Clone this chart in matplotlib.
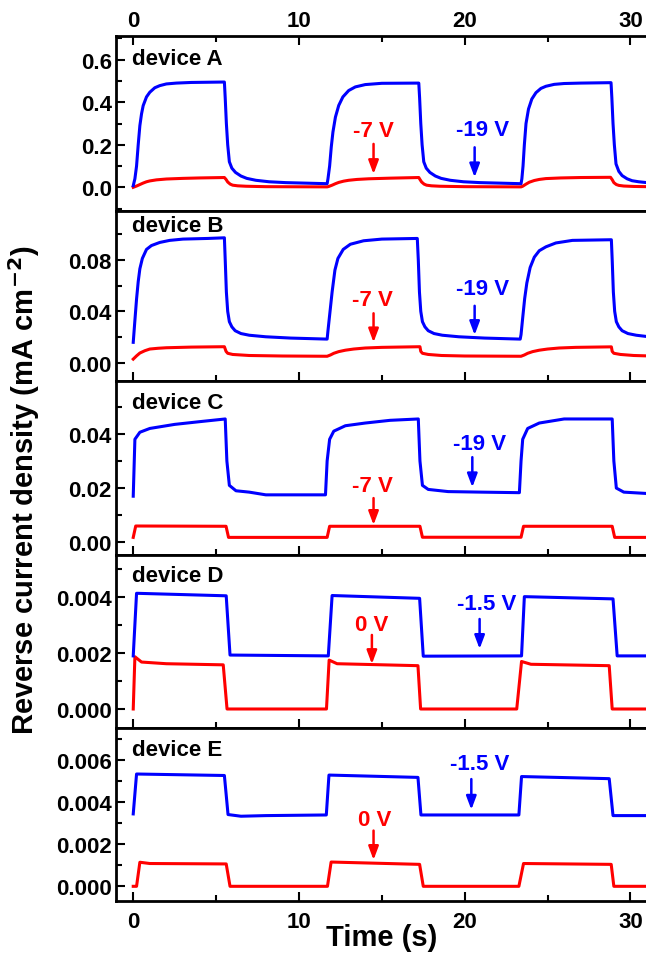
import matplotlib
matplotlib.use("Agg")
import matplotlib.pyplot as plt
from matplotlib.ticker import MultipleLocator

plt.rcParams['font.family'] = ['Liberation Sans', 'DejaVu Sans']
plt.rcParams['font.weight'] = 'bold'
plt.rcParams['mathtext.default'] = 'bf'

AZUL = '#0000ff'
ROJO = '#ff0000'

# ---- datos (tiempo en s, densidad en mA cm-2) ----
# device A
a_azul_t = [0, 0.1, 0.2, 0.3, 0.4, 0.5, 0.6, 0.8, 1.0, 1.3, 1.6, 2.0, 2.6, 3.5, 5.5,
            5.55, 5.62, 5.7, 5.8, 5.95, 6.17, 6.5, 6.85, 7.4, 8.2, 9.2, 10.2, 11.7,
            11.75, 11.85, 11.95, 12.05, 12.2, 12.4, 12.65, 13.0, 13.4, 14.0, 15.0, 17.23,
            17.28, 17.35, 17.43, 17.53, 17.68, 17.9, 18.23, 18.58, 19.13, 19.93, 20.93, 21.93, 23.4,
            23.45, 23.52, 23.6, 23.7, 23.85, 24.05, 24.3, 24.6, 24.9, 25.4, 26.0, 27.0, 28.83,
            28.88, 28.95, 29.03, 29.13, 29.3, 29.5, 29.8, 30.1, 30.5, 31.0]
a_azul_y = [0.0075, 0.04, 0.10, 0.20, 0.29, 0.345, 0.384, 0.425, 0.447, 0.468, 0.478, 0.486, 0.49, 0.493, 0.495,
            0.42, 0.30, 0.20, 0.12, 0.09, 0.07, 0.053, 0.042, 0.033, 0.026, 0.022, 0.02, 0.017,
            0.04, 0.10, 0.19, 0.26, 0.33, 0.385, 0.425, 0.455, 0.472, 0.483, 0.489, 0.49,
            0.42, 0.30, 0.20, 0.12, 0.09, 0.07, 0.053, 0.042, 0.033, 0.026, 0.022, 0.02, 0.017,
            0.04, 0.10, 0.20, 0.30, 0.368, 0.415, 0.445, 0.465, 0.475, 0.484, 0.488, 0.49, 0.492,
            0.42, 0.30, 0.20, 0.11, 0.075, 0.055, 0.04, 0.031, 0.026, 0.022]
a_rojo_t = [0, 0.2, 0.4, 0.6, 0.8, 1.0, 1.4, 2.0, 3.0, 4.0, 5.5,
            5.6, 5.7, 5.85, 6.0, 6.3, 6.8, 8.0, 11.7,
            11.8, 12.0, 12.2, 12.4, 12.7, 13.0, 13.5, 14.2, 15.5, 17.23,
            17.3, 17.4, 17.55, 17.7, 18.0, 18.5, 20.0, 23.4,
            23.5, 23.7, 23.9, 24.2, 24.5, 24.9, 25.8, 27.0, 28.8,
            28.9, 29.0, 29.15, 29.3, 29.6, 30.2, 31.0]
a_rojo_y = [0.0, 0.006, 0.013, 0.02, 0.026, 0.03, 0.035, 0.039, 0.042, 0.044, 0.046,
            0.037, 0.025, 0.015, 0.01, 0.007, 0.005, 0.003, 0.002,
            0.004, 0.01, 0.017, 0.023, 0.029, 0.033, 0.037, 0.04, 0.043, 0.046,
            0.037, 0.025, 0.015, 0.01, 0.007, 0.005, 0.003, 0.002,
            0.005, 0.015, 0.024, 0.032, 0.037, 0.041, 0.044, 0.046, 0.047,
            0.036, 0.022, 0.013, 0.009, 0.006, 0.004, 0.003]

# device B
b_azul_t = [0, 0.1, 0.2, 0.3, 0.4, 0.55, 0.8, 1.1, 1.6, 2.2, 3.0, 4.5, 5.5,
            5.55, 5.62, 5.7, 5.8, 5.95, 6.15, 6.5, 7.0, 8.0, 9.5, 11.7,
            11.75, 11.85, 12.0, 12.17, 12.35, 12.67, 13.1, 13.9, 15.0, 17.14,
            17.2, 17.27, 17.35, 17.45, 17.6, 17.8, 18.15, 18.65, 19.65, 21.2, 23.35,
            23.4, 23.5, 23.62, 23.75, 23.95, 24.2, 24.5, 24.9, 25.5, 26.5, 28.85,
            28.9, 28.97, 29.05, 29.15, 29.3, 29.5, 29.85, 30.35, 31.0]
b_azul_y = [0.016, 0.033, 0.0495, 0.063, 0.073, 0.081, 0.088, 0.091, 0.0934, 0.095, 0.096, 0.0965, 0.097,
            0.08, 0.055, 0.04, 0.032, 0.028, 0.025, 0.0228, 0.0215, 0.0203, 0.0193, 0.0185,
            0.025, 0.037, 0.055, 0.072, 0.081, 0.088, 0.092, 0.0947, 0.096, 0.0965,
            0.08, 0.055, 0.04, 0.032, 0.028, 0.025, 0.0228, 0.0215, 0.0203, 0.0193, 0.0185,
            0.022, 0.035, 0.05, 0.062, 0.074, 0.082, 0.087, 0.09, 0.093, 0.095, 0.0955,
            0.08, 0.055, 0.04, 0.032, 0.028, 0.025, 0.0228, 0.0215, 0.0205]
b_rojo_t = [0, 0.2, 0.4, 0.7, 1.0, 1.5, 2.0, 3.5, 5.5,
            5.6, 5.7, 6.0, 7.0, 9.0, 11.7,
            11.9, 12.1, 12.4, 12.8, 13.3, 14.0, 15.0, 17.3,
            17.35, 17.45, 17.8, 18.6, 20.0, 23.4,
            23.6, 23.8, 24.1, 24.5, 25.0, 25.7, 26.7, 28.85,
            28.9, 29.0, 29.4, 30.2, 31.0]
b_rojo_y = [0.003, 0.0055, 0.0077, 0.0095, 0.0108, 0.0114, 0.0118, 0.0123, 0.0126,
            0.009, 0.0075, 0.0066, 0.0058, 0.0054, 0.0052,
            0.0062, 0.0075, 0.0088, 0.0099, 0.0108, 0.0116, 0.0121, 0.0126,
            0.009, 0.0075, 0.0066, 0.0058, 0.0054, 0.0052,
            0.0062, 0.0075, 0.0088, 0.0099, 0.0108, 0.0116, 0.0121, 0.0125,
            0.009, 0.0075, 0.0066, 0.0058, 0.0055]

# device C
c_azul_t = [0, 0.1, 0.4, 1.0, 2.5, 4.0, 5.55, 5.65, 5.8, 6.2, 7.0, 8.0, 10.0, 11.6,
            11.7, 11.85, 12.1, 12.8, 14.0, 15.5, 17.2, 17.3, 17.45, 17.8, 19.0, 21.0, 23.3,
            23.4, 23.5, 23.8, 24.5, 26.0, 28.9, 29.0, 29.15, 29.6, 31.0]
c_azul_y = [0.017, 0.038, 0.0406, 0.042, 0.0435, 0.0445, 0.0455, 0.03, 0.021, 0.019, 0.0185, 0.0175, 0.0175, 0.0175,
            0.03, 0.038, 0.041, 0.043, 0.044, 0.045, 0.0455, 0.03, 0.021, 0.0195, 0.0187, 0.0185, 0.0183,
            0.03, 0.038, 0.042, 0.044, 0.0455, 0.0455, 0.03, 0.02, 0.0185, 0.018]
c_rojo_t = [0, 0.15, 5.6, 5.75, 11.7, 11.85, 17.3, 17.45, 23.4, 23.55, 28.9, 29.05, 31.0]
c_rojo_y = [0.0018, 0.006, 0.0059, 0.0018, 0.0018, 0.0059, 0.0059, 0.00185, 0.00185, 0.0059, 0.0059, 0.0018, 0.0018]

# device D
d_azul_t = [0, 0.2, 5.61, 5.84, 11.77, 12.0, 17.28, 17.5, 23.43, 23.6, 28.95, 29.2, 31.0]
d_azul_y = [0.0019, 0.00414, 0.00405, 0.00193, 0.0019, 0.00406, 0.00396, 0.00189, 0.0019,
            0.00402, 0.00394, 0.0019, 0.0019]
d_rojo_t = [0, 0.1, 0.5, 2.0, 5.43, 5.66, 11.66, 11.82, 12.3, 17.18, 17.34, 23.14, 23.43, 24.0,
            28.72, 28.9, 31.0]
d_rojo_y = [0.0, 0.00187, 0.00168, 0.00162, 0.00158, 0.0, 0.0, 0.00175, 0.00162, 0.00155, 0.0,
            0.0, 0.0017, 0.0016, 0.00155, 0.0, 0.0]

# device E
e_azul_t = [0, 0.2, 5.5, 5.72, 6.5, 8.0, 11.65, 11.81, 17.18, 17.36, 23.27, 23.43, 28.72, 28.95, 31.0]
e_azul_y = [0.00343, 0.00532, 0.00525, 0.0034, 0.00332, 0.00335, 0.00338, 0.00527, 0.00516,
            0.00338, 0.00338, 0.0052, 0.0051, 0.00335, 0.00335]
e_rojo_t = [0, 0.2, 0.4, 1.0, 5.61, 5.84, 11.72, 11.94, 17.28, 17.5, 23.27, 23.55, 28.84, 29.0, 31.0]
e_rojo_y = [0.0, 0.0, 0.00114, 0.00108, 0.00106, 0.0, 0.0, 0.00115, 0.00104, 0.0, 0.0,
            0.00108, 0.00104, 0.0, 0.0]

etiquetas = ['device A', 'device B', 'device C', 'device D', 'device E']
volt_rojo = ['-7 V', '-7 V', '-7 V', '0 V', '0 V']
volt_azul = ['-19 V', '-19 V', '-19 V', '-1.5 V', '-1.5 V']

yticks = [[0.0, 0.2, 0.4, 0.6], [0.0, 0.04, 0.08], [0.0, 0.02, 0.04],
          [0.0, 0.002, 0.004], [0.0, 0.002, 0.004, 0.006]]
ytick_labels = [['0.0', '0.2', '0.4', '0.6'], ['0.00', '0.04', '0.08'], ['0.00', '0.02', '0.04'],
                ['0.000', '0.002', '0.004'], ['0.000', '0.002', '0.004', '0.006']]
xticks = [0, 10, 20, 30]

# ---- layout (pixeles de la figura original) ----
W, H = 646, 954
paneles = [(37.3, 211.7), (211.7, 382.3), (382.3, 556.0), (556.0, 729.0), (729.0, 902.3)]
ylims = [(-0.11, 0.71), (-0.0142, 0.118), (-0.0047, 0.0594), (-0.00068, 0.00551), (-0.00071, 0.0075)]
yminor = [0.1, 0.02, 0.01, 0.001, 0.001]
lab_dy = [22.7, 15, 21, 20.7, 22]
# (x, y) texto y flecha (x, inicio, punta) para cada panel
txt_rojo = [(14.5, 0.266), (14.45, 0.0495), (14.45, 0.0209), (14.4, 0.00304), (14.55, 0.00316)]
arr_rojo = [(14.5, 0.204, 0.0625), (14.5, 0.0385, 0.016), (14.5, 0.0163, 0.0064),
            (14.4, 0.00265, 0.00161), (14.5, 0.00264, 0.00125)]
txt_azul = [(21.1, 0.271), (21.1, 0.058), (20.9, 0.0363), (21.3, 0.00376), (20.9, 0.00584)]
arr_azul = [(20.6, 0.188, 0.047), (20.6, 0.0443, 0.0217), (20.46, 0.0314, 0.0203),
            (20.9, 0.00322, 0.00215), (20.4, 0.00508, 0.00363)]

series = [(a_azul_t, a_azul_y, a_rojo_t, a_rojo_y),
          (b_azul_t, b_azul_y, b_rojo_t, b_rojo_y),
          (c_azul_t, c_azul_y, c_rojo_t, c_rojo_y),
          (d_azul_t, d_azul_y, d_rojo_t, d_rojo_y),
          (e_azul_t, e_azul_y, e_rojo_t, e_rojo_y)]

fig = plt.figure(figsize=(W / 100, H / 100), dpi=100)
izq = 116.0

for i, (top, bot) in enumerate(paneles):
    ax = fig.add_axes([izq / W, 1 - bot / H, (W - izq) / W, (bot - top) / H])
    bt, by, rt, ry = series[i]
    ax.plot(rt, ry, color=ROJO, lw=2.2, zorder=3)
    ax.plot(bt, by, color=AZUL, lw=2.2, zorder=4)
    ax.set_xlim(-1.04, 30.94)
    ax.set_ylim(*ylims[i])

    for s in ax.spines.values():
        s.set_linewidth(2.0)
    ax.spines['right'].set_visible(False)

    ax.set_yticks(yticks[i])
    ax.set_yticklabels(ytick_labels[i])
    ax.yaxis.set_minor_locator(MultipleLocator(yminor[i]))
    ax.set_xticks(xticks)
    ax.xaxis.set_minor_locator(MultipleLocator(5))
    ax.tick_params(which='major', direction='in', length=6.5, width=1.5, labelsize=16)
    ax.tick_params(which='minor', direction='in', length=4, width=1.5)
    ax.tick_params(axis='y', which='both', right=False, pad=3)

    if i == 0:
        ax.tick_params(axis='x', which='both', top=True, bottom=False,
                       labeltop=True, labelbottom=False, pad=3.5)
    elif i == len(paneles) - 1:
        ax.tick_params(axis='x', which='both', top=False, bottom=True,
                       labelbottom=True, pad=7)
    else:
        ax.tick_params(axis='x', which='both', top=False, bottom=True, labelbottom=False)

    ax.text(0.03, 1 - lab_dy[i] / (bot - top), etiquetas[i], transform=ax.transAxes,
            fontsize=16, fontweight='bold', ha='left', va='center')

    ax.text(*txt_rojo[i], volt_rojo[i], color=ROJO, fontsize=16, fontweight='bold',
            ha='center', va='center', zorder=5)
    ax.text(*txt_azul[i], volt_azul[i], color=AZUL, fontsize=16, fontweight='bold',
            ha='center', va='center', zorder=5)
    for (x, y0, y1), c in ((arr_rojo[i], ROJO), (arr_azul[i], AZUL)):
        ax.annotate('', xy=(x, y1), xytext=(x, y0),
                    arrowprops=dict(arrowstyle='-|>,head_width=0.3,head_length=0.8',
                                    color=c, lw=1.8, shrinkA=0, shrinkB=0), zorder=5)

fig.text(24 / W, 1 - 490 / H, 'Reverse current density (mA cm$^{-2}$)', rotation=90,
         fontsize=21, fontweight='bold', ha='center', va='center')
fig.text(382 / W, 1 - 938 / H, 'Time (s)', fontsize=21, fontweight='bold',
         ha='center', va='center')

fig.savefig('out.png', dpi=100)
